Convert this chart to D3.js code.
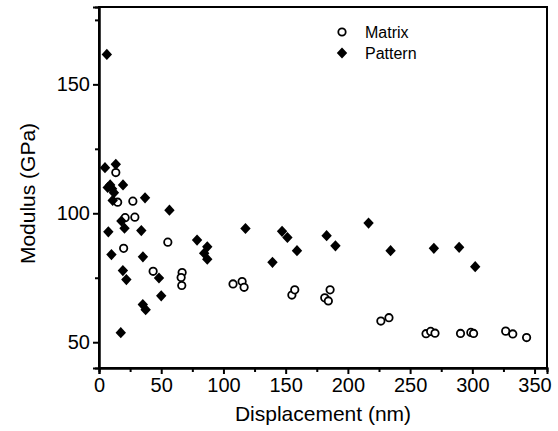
<!DOCTYPE html>
<html><head><meta charset="utf-8">
<script src="https://cdn.jsdelivr.net/npm/d3@7"></script>
<style>body{margin:0;background:#fff}svg{display:block}text{font-family:"Liberation Sans",Arial,sans-serif}</style>
</head><body><svg id="c" width="558" height="431"></svg>
<script>
const seriesNames = ["Matrix", "Pattern"];
const matrixX = [13.5,15,27.2,21,28.8,19.8,55.3,43.5,66.8,66,66.5,107.7,115,116.6,155,157.3,181.4,184.3,185.7,226.5,233,262.8,266.5,270,290.5,298.8,301,326.8,332.5,343.6];
const matrixY = [115.8,104.3,104.7,98.3,98.5,86.4,88.8,77.5,77,75.1,72,72.6,73.5,71.3,68.3,70.3,67.2,66,70.3,58.2,59.5,53.3,54.2,53.5,53.4,53.8,53.4,54.3,53.2,51.8];
const patternX = [6.3,4.8,13.5,7,9,10.5,12,11,19.3,37,56.6,18,20.5,7.5,34,10,35.3,19.2,22,48.2,50,35.2,37.5,17.5,78.8,87,84.5,87,117.7,139.4,147.1,151.4,159.1,182.9,190,216.6,234.3,269.1,289.4,302.3];
const patternY = [161.6,117.7,119,110,111,109.5,108,105,111,106,101.2,97,94.2,92.8,93.3,84,83.1,77.8,74.3,74.9,68,64.6,62.6,53.7,89.6,87,84.5,82.2,94.1,81,93,90.6,85.5,91.3,87.4,96.2,85.5,86.4,86.8,79.3];
const xTicks = [0,50,100,150,200,250,300,350];
const xMinor = [25,75,125,175,225,275,325];
const yTicks = [50,100,150];
const yMinor = [75,125,175];

const svg = d3.select("#c");
const L = 99, R = 547, T = 7, B = 368;
const x = d3.scaleLinear().domain([0,360]).range([L,R]);
const y = d3.scaleLinear().domain([40,180]).range([B,T]);

// frame
svg.append("rect").attr("x",L).attr("y",T).attr("width",R-L).attr("height",B-T)
  .attr("fill","none").attr("stroke","#000").attr("stroke-width",2);

// axes
const xa = svg.append("g").attr("transform",`translate(0,${B})`)
  .call(d3.axisBottom(x).tickValues(xTicks).tickSize(6).tickPadding(4).tickFormat(d3.format("d")));
const xm = svg.append("g").attr("transform",`translate(0,${B})`)
  .call(d3.axisBottom(x).tickValues(xMinor).tickSize(4).tickFormat(""));
const ya = svg.append("g").attr("transform",`translate(${L},0)`)
  .call(d3.axisLeft(y).tickValues(yTicks).tickSize(6).tickPadding(3).tickFormat(d3.format("d")));
const ym = svg.append("g").attr("transform",`translate(${L},0)`)
  .call(d3.axisLeft(y).tickValues(yMinor).tickSize(4).tickFormat(""));
[xa,xm,ya,ym].forEach(g=>{
  g.select(".domain").attr("stroke","#000").attr("stroke-width",2);
  g.selectAll(".tick line").attr("stroke","#000").attr("stroke-width",2);
  g.selectAll(".tick text").attr("fill","#000").style("font-size","20px");
});

// titles
svg.append("text").attr("x",(L+R)/2 - 0).attr("y",421).attr("text-anchor","middle")
  .style("font-size","21px").text("Displacement (nm)");
svg.append("text").attr("transform",`translate(35,${(T+B)/2+6}) rotate(-90)`).attr("text-anchor","middle")
  .style("font-size","21px").text("Modulus (GPa)");

const diamond = (cx,cy,w=5.2,h=5.6) => `M${cx},${cy-h}L${cx+w},${cy}L${cx},${cy+h}L${cx-w},${cy}Z`;

// matrix
const mData = matrixX.map((v,i)=>[v,matrixY[i]]);
svg.append("g").selectAll("circle").data(mData).join("circle")
  .attr("cx",d=>x(d[0])).attr("cy",d=>y(d[1])).attr("r",3.7)
  .attr("fill","#fff").attr("stroke","#000").attr("stroke-width",1.8);
// pattern
const pData = patternX.map((v,i)=>[v,patternY[i]]);
svg.append("g").selectAll("path").data(pData).join("path")
  .attr("d",d=>diamond(x(d[0]),y(d[1]))).attr("fill","#000");

// legend
const lg = svg.append("g");
lg.append("circle").attr("cx",342).attr("cy",32).attr("r",3.7).attr("fill","#fff").attr("stroke","#000").attr("stroke-width",1.8);
lg.append("path").attr("d",diamond(342,53)).attr("fill","#000");
lg.append("text").attr("x",365).attr("y",38).style("font-size","16px").text(seriesNames[0]);
lg.append("text").attr("x",365).attr("y",59).style("font-size","16px").text(seriesNames[1]);
</script></body></html>
